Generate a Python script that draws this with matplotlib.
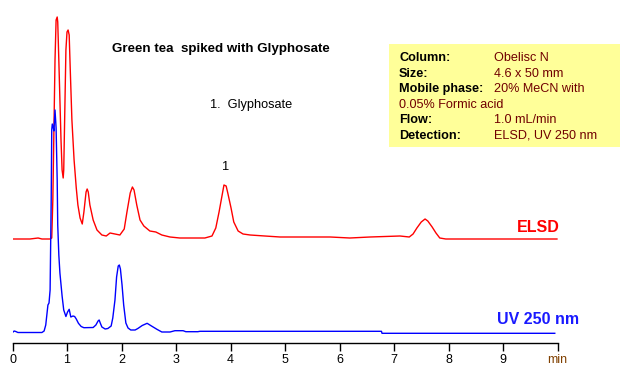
import matplotlib
matplotlib.use("Agg")
import matplotlib.pyplot as plt
from matplotlib.patches import Rectangle

plt.rcParams['font.family'] = ['Liberation Sans', 'DejaVu Sans']

# ELSD trace (time in min, detector signal)
elsd_t = [0.00, 0.32, 0.47, 0.54, 0.69, 0.72, 0.74, 0.78, 0.80, 0.82, 0.83, 0.85,
          0.89, 0.91, 0.93, 0.94, 0.96, 0.98, 1.00, 1.02, 1.04, 1.06, 1.09, 1.13,
          1.17, 1.20, 1.24, 1.28, 1.31, 1.35, 1.37, 1.39, 1.42, 1.48, 1.55, 1.64,
          1.72, 1.79, 1.88, 1.97, 2.05, 2.10, 2.16, 2.20, 2.23, 2.28, 2.34, 2.41,
          2.52, 2.63, 2.74, 2.89, 3.07, 3.26, 3.53, 3.66, 3.73, 3.79, 3.85, 3.88,
          3.92, 3.95, 4.01, 4.06, 4.14, 4.23, 4.36, 4.63, 4.91, 5.28, 5.83, 6.19,
          6.56, 7.11, 7.28, 7.35, 7.42, 7.50, 7.57, 7.62, 7.70, 7.77, 7.84, 7.95,
          8.39, 8.94, 9.99]
elsd_s = [104, 104, 105, 104, 104, 105, 143, 283, 323, 326, 321, 283,
          203, 173, 165, 173, 233, 293, 311, 313, 308, 273, 223, 183,
          155, 138, 125, 119, 131, 151, 154, 151, 138, 123, 113, 108,
          107, 110, 109, 108, 114, 131, 150, 156, 153, 138, 123, 117,
          112, 111, 108, 106, 105, 105, 105, 107, 115, 131, 149, 158,
          157, 150, 135, 121, 112, 109, 108, 107, 106, 106, 106, 105,
          106, 107, 106, 109, 115, 121, 124, 122, 116, 110, 105, 104,
          104, 104, 104]

# UV 250 nm trace
uv_t = [0.00, 0.03, 0.06, 0.10, 0.54, 0.58, 0.61, 0.65, 0.67, 0.69, 0.71, 0.72,
        0.73, 0.75, 0.76, 0.78, 0.80, 0.82, 0.83, 0.85, 0.87, 0.91, 0.94, 0.98,
        1.01, 1.04, 1.07, 1.11, 1.14, 1.17, 1.21, 1.26, 1.31, 1.48, 1.53, 1.57,
        1.59, 1.61, 1.64, 1.70, 1.75, 1.81, 1.84, 1.88, 1.91, 1.94, 1.96, 1.98,
        2.01, 2.04, 2.08, 2.12, 2.17, 2.25, 2.30, 2.38, 2.47, 2.55, 2.65, 2.74,
        2.89, 2.98, 3.13, 3.18, 3.40, 3.44, 6.77, 6.78, 9.95]
uv_s = [10.5, 12, 11.5, 10.5, 10.5, 12, 18, 38, 40, 53, 143, 213,
        219, 215, 212, 233, 215, 163, 118, 88, 70, 47, 33, 26.5,
        31, 33.7, 26, 27, 26.5, 24, 19.7, 16.5, 15.3, 15.5, 18, 22,
        23, 20, 16, 14, 14.5, 17, 25, 43, 66, 77, 78, 74,
        58, 38, 20, 15, 13, 13, 14.5, 17.5, 19.7, 17, 13.7, 11,
        11, 12.3, 12.3, 11.3, 11.3, 11.7, 11.7, 9.7, 9.7]

ticks = [0, 1, 2, 3, 4, 5, 6, 7, 8, 9, 10]
tick_labels = ['0', '1', '2', '3', '4', '5', '6', '7', '8', '9', 'min']

W, H = 627, 375
fig = plt.figure(figsize=(W / 100, H / 100), dpi=100)
ax = fig.add_axes([12.5 / W, 32 / H, 545 / W, 343 / H])
ax.set_xlim(0, 10)
ax.set_ylim(0, 343)

ax.plot(elsd_t, elsd_s, color='#ff0000', lw=1.0)
ax.plot(uv_t, uv_s, color='#0000ff', lw=1.0)

for s in ['top', 'right', 'left']:
    ax.spines[s].set_visible(False)
ax.spines['bottom'].set_linewidth(1.0)
ax.set_yticks([])
ax.set_xticks(ticks)
ax.set_xticklabels(tick_labels)
ax.tick_params(axis='x', direction='out', length=6, width=1, labelsize=9, pad=2)
ax.get_xticklabels()[-1].set_color('#804000')


def px(x, y):
    return x / W, 1 - y / H


fig.text(*px(221, 49), 'Green tea  spiked with Glyphosate', fontsize=9.6,
         fontweight='bold', ha='center', va='center')
fig.text(*px(251, 105), '1.  Glyphosate', fontsize=9.2, ha='center', va='center')
fig.text(*px(226, 167), '1', fontsize=9.2, ha='center', va='center')
fig.text(*px(538, 228), 'ELSD', fontsize=11.5, fontweight='bold',
         color='#ff0000', ha='center', va='center')
fig.text(*px(538, 319), 'UV 250 nm', fontsize=11.5, fontweight='bold',
         color='#1a1aff', ha='center', va='center')

# info box
fig.patches.append(Rectangle((389 / W, 1 - 147 / H), 231 / W, 103 / H,
                             transform=fig.transFigure, facecolor='#ffff99',
                             edgecolor='none', zorder=0))
rows = [('Column:', 'Obelisc N'), ('Size:', '4.6 x 50 mm'),
        ('Mobile phase:', '20% MeCN with'), (None, '0.05% Formic acid'),
        ('Flow:', '1.0 mL/min'), ('Detection:', 'ELSD, UV 250 nm')]
for i, (lab, val) in enumerate(rows):
    y = 58 + i * 15.6
    if lab is None:
        fig.text(*px(399, y), val, fontsize=9.1, color='#700000', va='center')
    else:
        fig.text(*px(399, y), lab, fontsize=9.1, fontweight='bold', va='center')
        fig.text(*px(494, y), val, fontsize=9.1, color='#700000', va='center')

fig.savefig('out.png', dpi=100)
